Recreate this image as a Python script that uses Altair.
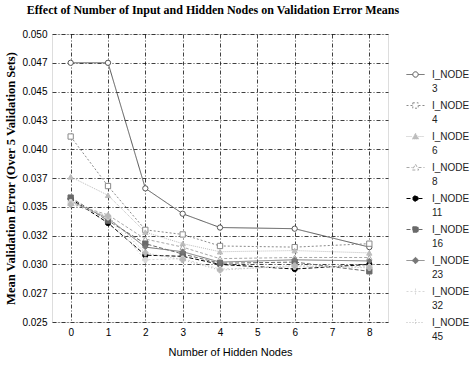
import altair as alt
import pandas as pd

series = ["I_NODE 3", "I_NODE 4", "I_NODE 6", "I_NODE 8", "I_NODE 11",
          "I_NODE 16", "I_NODE 23", "I_NODE 32", "I_NODE 45"]
hidden_nodes = [0, 1, 2, 3, 4, 6, 8]
values = {
    "I_NODE 3":  [0.0475, 0.0475, 0.0366, 0.0344, 0.0332, 0.0331, 0.0315],
    "I_NODE 4":  [0.0411, 0.0368, 0.0330, 0.0326, 0.0316, 0.0315, 0.0318],
    "I_NODE 6":  [0.0376, 0.0360, 0.0328, 0.0318, 0.0311, 0.0312, 0.0310],
    "I_NODE 8":  [0.0353, 0.0343, 0.0322, 0.0315, 0.0305, 0.0306, 0.0306],
    "I_NODE 11": [0.0357, 0.0336, 0.0308, 0.0307, 0.0300, 0.0296, 0.0300],
    "I_NODE 16": [0.0358, 0.0338, 0.0318, 0.0309, 0.0301, 0.0302, 0.0294],
    "I_NODE 23": [0.0355, 0.0340, 0.0315, 0.0311, 0.0302, 0.0304, 0.0303],
    "I_NODE 32": [0.0354, 0.0341, 0.0304, 0.0305, 0.0296, 0.0298, 0.0298],
    "I_NODE 45": [0.0352, 0.0342, 0.0310, 0.0304, 0.0295, 0.0299, 0.0297],
}
y_ticks = [0.025, 0.0275, 0.03, 0.0325, 0.035, 0.0375, 0.04, 0.0425, 0.045, 0.0475, 0.05]
y_tick_labels = ["0.025", "0.027", "0.030", "0.032", "0.035", "0.037",
                 "0.040", "0.043", "0.045", "0.047", "0.050"]
x_ticks = [0, 1, 2, 3, 4, 5, 6, 7, 8]

colors = ["#555555", "#8a8a8a", "#bdbdbd", "#a8a8a8", "#000000",
          "#6a6a6a", "#777777", "#d8d8d8", "#b8b8b8"]
fills = ["#ffffff", "#ffffff", "#bdbdbd", "#ffffff", "#000000",
         "#6a6a6a", "#777777", "#d8d8d8", "#b8b8b8"]
shapes = ["circle", "square", "triangle-up", "triangle-up", "circle",
          "square", "diamond", "cross", "cross"]
dashes = [[1, 0], [2, 2], [1, 1], [3, 2], [4, 2], [4, 2], [1, 0], [2, 2], [1, 2]]

stub = "M-1,0H-0.33M0.33,0H1"
circ = "M-0.3,0A0.3,0.3 0 1,1 0.3,0A0.3,0.3 0 1,1 -0.3,0Z"
sq = "M-0.3,-0.3H0.3V0.3H-0.3Z"
tri = "M0,-0.36L0.36,0.28H-0.36Z"
dia = "M0,-0.36L0.36,0L0,0.36L-0.36,0Z"
plus = "M-1,0H1M0,-0.33V0.33"
legend_paths = [stub + circ, stub + sq, stub + tri, stub + tri, stub + circ,
                stub + sq, stub + dia, plus, plus]

rows = []
for s, shp in zip(series, shapes):
    for x, v in zip(hidden_nodes, values[s]):
        rows.append({"series": s, "hidden": x, "err": v, "shp": shp})
df = pd.DataFrame(rows)
legend_df = pd.DataFrame({"series": series, "hidden": [-5] * len(series), "err": [0.0] * len(series)})

label_expr = ("[" + ",".join("'" + l + "'" for l in y_tick_labels)
              + "][round((datum.value - 0.025) / 0.0025)]")

grid_kw = dict(grid=True, gridColor="#000", gridDash=[4, 2, 1, 2], gridOpacity=0.75, gridWidth=1)
xenc = alt.X("hidden:Q",
             scale=alt.Scale(domain=[-0.5, 8.5], nice=False, zero=False),
             axis=alt.Axis(values=x_ticks, format="d", title="Number of Hidden Nodes",
                           ticks=False, labelPadding=5, domain=False, labelOverlap=False,
                           titleX=178, titleY=30, titleBaseline="middle",
                           titleFontWeight="normal", **grid_kw))
yenc = alt.Y("err:Q",
             scale=alt.Scale(domain=[0.025, 0.05], nice=False, zero=False),
             axis=alt.Axis(values=y_ticks, labelExpr=label_expr, ticks=False,
                           labelPadding=5, domain=False, labelOverlap=False,
                           title="Mean Validation Error (Over 5 Validation Sets)",
                           titleFont="Liberation Serif", titleFontWeight="bold",
                           titleFontSize=12.5, titleAngle=-90, titleX=-42, titleY=144,
                           titleAlign="center", titleBaseline="middle", **grid_kw))

leg = alt.Legend(title=None, orient="none", legendX=354, legendY=31,
                 labelExpr="split(datum.label, ' ')",
                 labelFont="Liberation Sans", labelFontSize=10, labelColor="#222",
                 labelOffset=7, rowPadding=2, symbolSize=324, symbolStrokeWidth=1,
                 symbolOpacity=1, labelBaseline="middle")

legend_layer = alt.Chart(legend_df).mark_point(
    clip=True, size=28, strokeWidth=1, opacity=1, fillOpacity=1
).encode(
    x=xenc, y=yenc,
    color=alt.Color("series:N", scale=alt.Scale(domain=series, range=colors), legend=leg),
    fill=alt.Fill("series:N", scale=alt.Scale(domain=series, range=fills), legend=leg),
    shape=alt.Shape("series:N", scale=alt.Scale(domain=series, range=legend_paths), legend=leg),
)

color_nl = alt.Color("series:N", scale=alt.Scale(domain=series, range=colors), legend=None)
fill_nl = alt.Fill("series:N", scale=alt.Scale(domain=series, range=fills), legend=None)

lines = alt.Chart(df).mark_line(strokeWidth=1).encode(
    x=xenc, y=yenc, color=color_nl,
    strokeDash=alt.StrokeDash("series:N", scale=alt.Scale(domain=series, range=dashes), legend=None),
    detail="series:N",
)
points = alt.Chart(df).mark_point(size=28, strokeWidth=1, opacity=1, fillOpacity=1).encode(
    x=xenc, y=yenc, color=color_nl, fill=fill_nl,
    shape=alt.Shape("shp:N", scale=None),
)

chart = alt.layer(legend_layer, lines, points).properties(
    width=336, height=288,
    title=alt.TitleParams("Effect of Number of Input and Hidden Nodes on Validation Error Means",
                          font="Liberation Serif", fontSize=12, fontWeight="bold",
                          anchor="middle", offset=12, dx=-7, color="#000"),
    autosize=alt.AutoSizeParams(type="none"),
    padding={"left": 52, "top": 34, "right": 86, "bottom": 48},
).configure_view(stroke="#000", strokeWidth=1).configure_axis(
    labelFont="Liberation Sans", labelFontSize=10, labelColor="#222",
    titleFont="Liberation Sans", titleFontSize=10, titleColor="#222",
).configure(background="white", style={"guide-label": {"lineHeight": 14}})

chart.save("out.html", embed_options={"renderer": "svg", "actions": False})
